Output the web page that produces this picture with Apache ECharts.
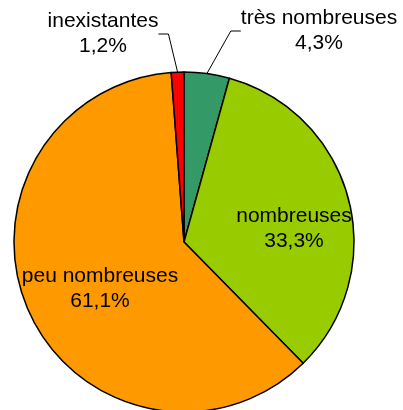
<!DOCTYPE html>
<html>
<head>
<meta charset="utf-8">
<script src="https://cdn.jsdelivr.net/npm/echarts@6/dist/echarts.min.js"></script>
<style>
  html, body { margin: 0; padding: 0; background: #fff; }
  #chart { width: 403px; height: 410px; }
</style>
</head>
<body>
<div id="chart"></div>
<script>
// slices, clockwise from 12 o'clock
const categories = ['très nombreuses', 'nombreuses', 'peu nombreuses', 'inexistantes']
const shares = [4.3, 33.3, 61.1, 1.2]
const colors = ['#339966', '#99cc00', '#ff9900', '#ff0000']

// where each label block sits (centre), outside ones get a leader line
const labelSpots = [
  { x: 319, y: 31, line: true },
  { x: 294, y: 229, line: false },
  { x: 100, y: 289, line: false },
  { x: 103, y: 34, line: true }
]

const chart = echarts.init(document.getElementById('chart'))

chart.setOption({
  animation: false,
  series: [{
    type: 'pie',
    center: [184, 242],
    radius: 170,
    startAngle: 90,
    clockwise: true,
    avoidLabelOverlap: false,
    itemStyle: {
      borderColor: '#000',
      borderWidth: 1.5
    },
    label: {
      show: true,
      position: 'outside',
      color: '#000',
      fontFamily: 'Liberation Sans, Arial, sans-serif',
      fontSize: 21,
      lineHeight: 25,
      align: 'center',
      formatter: p => p.name + '\n' + String(p.value).replace('.', ',') + '%'
    },
    labelLine: {
      show: true,
      length: 20,
      length2: 10,
      lineStyle: { color: '#000', width: 1 }
    },
    labelLayout: params => {
      const s = labelSpots[params.dataIndex]
      return { x: s.x, y: s.y, align: 'center', verticalAlign: 'middle' }
    },
    emphasis: { disabled: true },
    data: categories.map((name, i) => ({
      name: name,
      value: shares[i],
      itemStyle: { color: colors[i] },
      labelLine: { show: labelSpots[i].line }
    }))
  }]
})
</script>
</body>
</html>
